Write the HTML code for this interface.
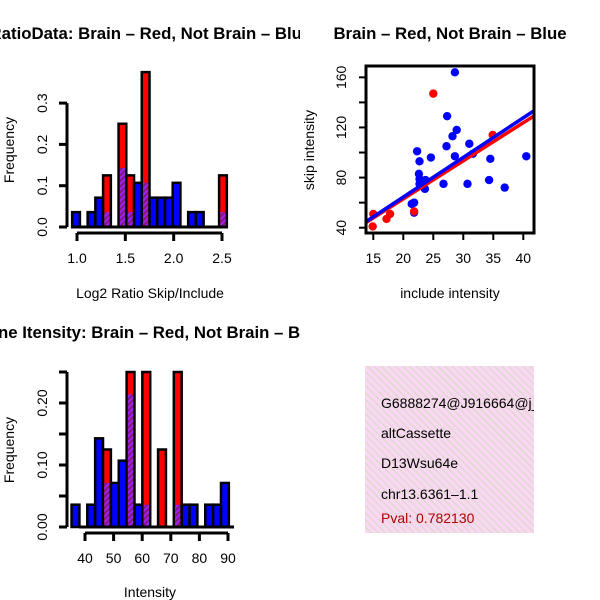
<!DOCTYPE html>
<html><head><meta charset="utf-8"><style>
body{margin:0;background:#fff}
svg{display:block;font-family:"Liberation Sans",sans-serif}
</style></head><body>
<svg id="s" width="600" height="600" xmlns="http://www.w3.org/2000/svg">
<defs>
<pattern id="purp" width="4" height="4" patternUnits="userSpaceOnUse" patternTransform="rotate(45)"><rect width="4" height="4" fill="#a020f0"/><rect width="2" height="4" fill="#801880"/></pattern>
<clipPath id="cr"><rect x="366" y="66" width="168" height="167"/></clipPath>
</defs>
<g id="g"></g>
</svg>
<script>
// Histogram 1: Log2 ratio
const h1Start = 0.95, h1Width = 0.08;
const h1Blue = [0.036,0,0.036,0.071,0.036,0,0.143,0.036,0.107,0.107,0.071,0.071,0.071,0.107,0,0.036,0.036,0,0,0.036];
const h1Red  = [0,0,0,0,0.125,0,0.25,0.125,0,0.375,0,0,0,0,0,0,0,0,0,0.125];
const h1YTicks = ["0.0","0.1","0.2","0.3"];
const h1XTicks = ["1.0","1.5","2.0","2.5"];
// Histogram 2: Intensity
const h2Start = 35.3, h2Width = 2.75;
const h2Blue = [0.036,0,0.036,0.143,0.071,0.071,0.107,0.214,0.036,0.036,0,0,0,0.036,0.036,0.036,0,0.036,0.036,0.071];
const h2Red  = [0,0,0,0,0.125,0,0,0.25,0,0.25,0,0.125,0,0.25,0,0,0,0,0,0];
const h2YTicks = ["0.00","0.05","0.10","0.15","0.20","0.25"];
const h2XTicks = ["40","50","60","70","80","90"];
// Scatter
const blueX = [28.6,27.3,28.9,28.2,31.0,22.3,27.2,24.6,22.7,28.6,31.6,34.5,40.5,22.6,22.7,23.7,22.7,23.6,26.7,30.7,34.3,36.9,21.4,21.8,21.8];
const blueY = [164,129,118,113,107,101,105,96,93,97,99,95,97,83,79,78,75,71,75,75,78,72,59,60,52];
const redX = [25.0,14.9,15.0,17.2,17.8,34.9,21.8];
const redY = [147,41,51,47,51,114,53];
const blueFit = [1.3,3.16]; // intercept, slope
const redFit = [2.2,3.04];
const scXTicks = [15,20,25,30,35,40];
const scYTicks = [40,60,80,100,120,140,160];
const scYLabels = ["40","","80","","120","","160"];

const NS="http://www.w3.org/2000/svg", G=document.getElementById('g');
function el(t,a,p){const e=document.createElementNS(NS,t);for(const k in a)e.setAttribute(k,a[k]);(p||G).appendChild(e);return e;}
function txt(s,a,p){const e=el('text',a,p);e.textContent=s;return e;}

function hist(start,w,blue,red,x0,x1,v0,v1,y0,yPerUnit,yTicks,yStep,xTicks,xv0,xStep,axX,axY,name){
  const gx=v=>x0+(v-v0)*(x1-x0)/(v1-v0);
  const gy=v=>y0-v*yPerUnit;
  const grp=el('g',{});
  
  
  for(let i=0;i<blue.length;i++){
    const a=gx(start+i*w), b=gx(start+(i+1)*w);
    const bv=blue[i], rv=red[i];
    const mx=Math.max(bv,rv), mn=Math.min(bv,rv);
    if(mx<=0) continue;
    const r=el('rect',{x:a,y:gy(mx),width:b-a,height:gy(0)-gy(mx),fill:rv>bv?'#ff0000':'#0000ff',stroke:'#000','stroke-width':2.5},grp);
    
    
    if(mn>0){
      const p=el('rect',{x:a+1.2,y:gy(mn),width:b-a-2.4,height:gy(0)-gy(mn)-1.2,fill:'url(#purp)'},grp);
      
      
    }
  }
  el('line',{x1:x0-6,x2:x1+6,y1:gy(0),y2:gy(0),stroke:'#000','stroke-width':3},grp);
  const ya=el('g',{},grp);
  
  
  const top=gy((yTicks.length-1)*yStep);
  el('line',{x1:axX,x2:axX,y1:gy(0),y2:top,stroke:'#000','stroke-width':3},ya);
  yTicks.forEach((t,i)=>{const y=gy(i*yStep);
    el('line',{x1:axX-8,x2:axX,y1:y,y2:y,stroke:'#000','stroke-width':3},ya);
    if(yTicks.length>4 && i%2==1) return;
    const tt=txt(t,{x:axX-20,y:y,'font-size':14,'text-anchor':'middle',transform:`rotate(-90 ${axX-20} ${y})`},ya);
    
    
  });
  const xa=el('g',{},grp);
  
  
  const xs=xTicks.map((t,i)=>gx(xv0+i*xStep));
  el('line',{x1:xs[0],x2:xs[xs.length-1],y1:axY,y2:axY,stroke:'#000','stroke-width':3},xa);
  xTicks.forEach((t,i)=>{
    el('line',{x1:xs[i],x2:xs[i],y1:axY,y2:axY+8,stroke:'#000','stroke-width':3},xa);
    const tt=txt(t,{x:xs[i],y:axY+30,'font-size':14,'text-anchor':'middle'},xa);
    
    
  });
}
hist(h1Start,h1Width,h1Blue,h1Red,77,222,1.0,2.5,227,413,h1YTicks,0.1,h1XTicks,1.0,0.5,67,233,'ratio-histogram');
hist(h2Start,h2Width,h2Blue,h2Red,85,228,40,90,527,620,h2YTicks,0.05,h2XTicks,40,10,67,533,'intensity-histogram');

// scatter
const sx=v=>373.3+(v-15)*6, sy=v=>227.7-(v-40)*1.253;
const sg=el('g',{});


const pts=el('g',{'clip-path':'url(#cr)'},sg);
blueX.forEach((x,i)=>{const c=el('circle',{cx:sx(x),cy:sy(blueY[i]),r:4.2,fill:'#0000ff'},pts);
  
  });
redX.forEach((x,i)=>{const c=el('circle',{cx:sx(x),cy:sy(redY[i]),r:4.2,fill:'#ff0000'},pts);
  
  });
[[redFit,'#ff0000','fit-line-brain'],[blueFit,'#0000ff','fit-line-not-brain']].forEach(([f,c,n])=>{
  const xa=13,xb=43;
  const l=el('line',{x1:sx(xa),y1:sy(f[0]+f[1]*xa),x2:sx(xb),y2:sy(f[0]+f[1]*xb),stroke:c,'stroke-width':3.5},pts);
  
  
});
el('rect',{x:366,y:66,width:168,height:167,fill:'none',stroke:'#000','stroke-width':3},sg);
scXTicks.forEach(v=>{el('line',{x1:sx(v),x2:sx(v),y1:233,y2:240,stroke:'#000','stroke-width':2},sg);
  const t=txt(String(v),{x:sx(v),y:263,'font-size':14,'text-anchor':'middle'},sg);
  
  });
scYTicks.forEach((v,i)=>{const y=sy(v);el('line',{x1:359,x2:366,y1:y,y2:y,stroke:'#000','stroke-width':2},sg);
  if(scYLabels[i]){const t=txt(scYLabels[i],{x:346,y:y,'font-size':14,'text-anchor':'middle',transform:`rotate(-90 346 ${y})`},sg);
  
  }});
</script>
<svg width="600" height="600" style="position:absolute;left:0;top:0" xmlns="http://www.w3.org/2000/svg">
<defs><clipPath id="cl2"><rect x="0" y="0" width="300" height="600"/></clipPath>
<pattern id="pink2" width="5" height="5" patternUnits="userSpaceOnUse" patternTransform="rotate(-45)"><rect width="5" height="5" fill="#fad8f4"/><rect width="1.5" height="5" fill="#e0d8d0"/></pattern></defs>
<g font-family="Liberation Sans, sans-serif">
<text clip-path="url(#cl2)" x="128" y="39" font-size="16.8" font-weight="bold" text-anchor="middle">Log2 RatioData: Brain – Red, Not Brain – Blue</text>
<text x="450" y="39" font-size="16.8" font-weight="bold" text-anchor="middle">Brain – Red, Not Brain – Blue</text>
<text clip-path="url(#cl2)" x="150" y="338" font-size="16.8" font-weight="bold" text-anchor="middle">Gene Itensity: Brain – Red, Not Brain – Blue</text>
<text x="14" y="150" font-size="14" text-anchor="middle" transform="rotate(-90 14 150)">Frequency</text>
<text x="14" y="450" font-size="14" text-anchor="middle" transform="rotate(-90 14 450)">Frequency</text>
<text x="150" y="298" font-size="14" text-anchor="middle">Log2 Ratio Skip/Include</text>
<text x="150" y="597" font-size="14" text-anchor="middle">Intensity</text>
<text x="450" y="298" font-size="14" text-anchor="middle">include intensity</text>
<text x="314" y="150" font-size="14" text-anchor="middle" transform="rotate(-90 314 150)">skip intensity</text>
<g>
<rect x="365" y="366" width="169" height="167" fill="url(#pink2)"/>
<svg x="365" y="366" width="169" height="167" overflow="hidden">
<text x="16" y="42" font-size="14">G6888274@J916664@j_</text>
<text x="16" y="72" font-size="14">altCassette</text>
<text x="16" y="102" font-size="14">D13Wsu64e</text>
<text x="16" y="133" font-size="14">chr13.6361–1.1</text>
<text x="16" y="157" font-size="14" fill="#b00000">Pval: 0.782130</text>
</svg>
</g>
</g>
</svg>
</body></html>
